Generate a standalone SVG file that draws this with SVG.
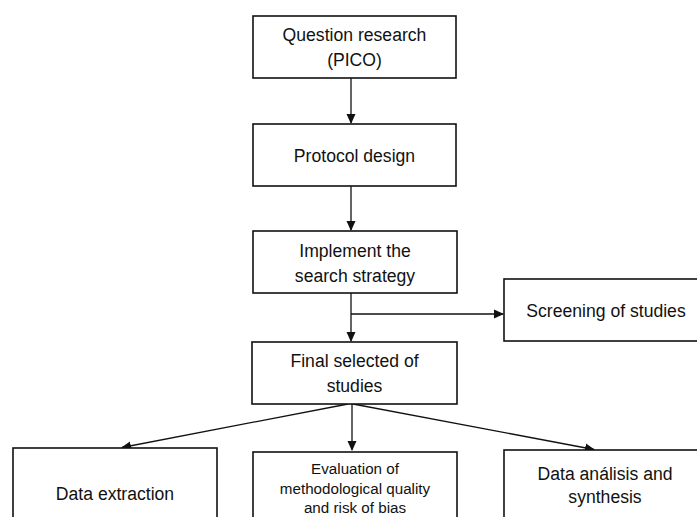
<svg xmlns="http://www.w3.org/2000/svg" width="697" height="517" viewBox="0 0 697 517">
<defs>
<marker id="ah" markerWidth="10" markerHeight="10" refX="9" refY="4.5" orient="auto" markerUnits="userSpaceOnUse" viewBox="0 0 10 9">
<path d="M0,0 L10,4.5 L0,9 Z" fill="#111"/>
</marker>
</defs>
<style>
.box{fill:#fff;stroke:#111;stroke-width:1.6}
.t{font-family:"Liberation Sans",Arial,sans-serif;font-size:17.6px;fill:#111;text-anchor:middle}
.s{font-family:"Liberation Sans",Arial,sans-serif;font-size:15.2px;fill:#111;text-anchor:middle}
.c{stroke:#111;stroke-width:1.3;fill:none}
</style>
<rect width="697" height="517" fill="#fff"/>
<g id="connectors">
<line class="c" x1="351" y1="78" x2="351" y2="123" marker-end="url(#ah)"/>
<line class="c" x1="351" y1="186" x2="351" y2="230" marker-end="url(#ah)"/>
<line class="c" x1="351" y1="293" x2="351" y2="341" marker-end="url(#ah)"/>
<line class="c" x1="351" y1="314" x2="503" y2="314" marker-end="url(#ah)"/>
<line class="c" x1="348" y1="404" x2="122" y2="447.5" marker-end="url(#ah)"/>
<line class="c" x1="352" y1="404" x2="352" y2="450" marker-end="url(#ah)"/>
<line class="c" x1="353" y1="404" x2="594" y2="449.5" marker-end="url(#ah)"/>
</g>
<g id="n1">
<rect class="box" x="253" y="16" width="203" height="62"/>
<text class="t" x="354.5" y="41">Question research</text>
<text class="t" x="354.5" y="66">(PICO)</text>
</g>
<g id="n2">
<rect class="box" x="253" y="124" width="203" height="62"/>
<text class="t" x="354.5" y="162">Protocol design</text>
</g>
<g id="n3">
<rect class="box" x="253" y="231" width="204" height="62"/>
<text class="t" x="355" y="257">Implement the</text>
<text class="t" x="355" y="282">search strategy</text>
</g>
<g id="n4">
<rect class="box" x="504" y="279" width="200" height="62"/>
<text class="t" x="606" y="317">Screening of studies</text>
</g>
<g id="n5">
<rect class="box" x="252" y="342" width="205" height="62"/>
<text class="t" x="354.5" y="367">Final selected of</text>
<text class="t" x="354.5" y="392">studies</text>
</g>
<g id="n6">
<rect class="box" x="13" y="448" width="204" height="80"/>
<text class="t" x="115" y="500">Data extraction</text>
</g>
<g id="n7">
<rect class="box" x="253" y="452" width="204" height="76"/>
<text class="s" x="355" y="474">Evaluation of</text>
<text class="s" x="355" y="494">methodological quality</text>
<text class="s" x="355" y="513">and risk of bias</text>
</g>
<g id="n8">
<rect class="box" x="504" y="450" width="200" height="78"/>
<text class="t" x="605" y="480">Data análisis and</text>
<text class="t" x="605" y="503">synthesis</text>
</g>
</svg>
